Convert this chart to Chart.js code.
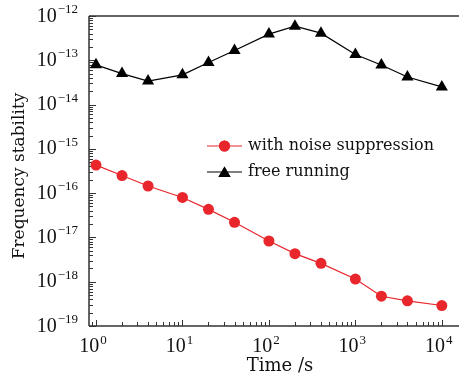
<!DOCTYPE html>
<html>
<head>
<meta charset="utf-8">
<script src="https://cdn.jsdelivr.net/npm/chart.js@4"></script>
<style>
  html, body { margin: 0; padding: 0; background: #fff; }
  #wrap { width: 466px; height: 378px; }
</style>
</head>
<body>
<div id="wrap"><canvas id="stab"></canvas></div>
<script>
// averaging time (s)
const tau = [1, 2, 4, 10, 20, 40, 100, 200, 400, 1000, 2000, 4000, 10000];
// Allan deviation, locked with noise suppression
const suppressed = [4.3e-16, 2.5e-16, 1.45e-16, 8.0e-17, 4.3e-17, 2.2e-17, 8.3e-18, 4.3e-18, 2.6e-18, 1.15e-18, 4.7e-19, 3.7e-19, 2.9e-19];
// Allan deviation, free running
const freeRunning = [7.9e-14, 5.0e-14, 3.4e-14, 4.7e-14, 8.9e-14, 1.66e-13, 3.9e-13, 5.9e-13, 4.1e-13, 1.35e-13, 7.8e-14, 4.2e-14, 2.5e-14];
const seriesNames = ['with noise suppression', 'free running'];
// decade labels
const xExps = [0, 1, 2, 3, 4];
const yExps = [-19, -18, -17, -16, -15, -14, -13, -12];

const RED = 'rgb(232,38,44)';
const AXIS = '#333';
const SERIF = '"DejaVu Serif", serif';
const NUM = '"Liberation Serif", serif';

function isInt(v) { return Math.abs(v - Math.round(v)) < 1e-6; }

// "10" with a raised exponent, y is the baseline
function drawPow(ctx, exp, x, y, align) {
  const base = '10';
  const sup = exp < 0 ? '\u2212' + (-exp) : String(exp);
  ctx.font = '20px ' + NUM;
  const bw = ctx.measureText(base).width;
  ctx.font = '13px ' + NUM;
  const ew = ctx.measureText(sup).width;
  const x0 = align === 'right' ? x - bw - ew - 1 : x - (bw + ew + 1) / 2;
  ctx.textAlign = 'left';
  ctx.textBaseline = 'alphabetic';
  ctx.font = '20px ' + NUM;
  ctx.fillText(base, x0, y);
  ctx.font = '13px ' + NUM;
  ctx.fillText(sup, x0 + bw + 1, y - 8.5);
}

const frame = {
  id: 'frame',
  beforeDatasetsDraw(chart) {
    const {ctx, chartArea: a, scales: {x, y}} = chart;
    ctx.save();
    ctx.strokeStyle = AXIS;
    ctx.lineWidth = 1.5;
    ctx.beginPath();
    ctx.moveTo(a.left, a.top); ctx.lineTo(a.right, a.top);
    ctx.moveTo(a.left, a.top); ctx.lineTo(a.left, a.bottom);
    ctx.moveTo(a.left, a.bottom); ctx.lineTo(a.right, a.bottom);
    ctx.stroke();

    // inward ticks, longer on the decades
    ctx.lineWidth = 1;
    ctx.beginPath();
    x.ticks.forEach(t => {
      const m = t.value / Math.pow(10, Math.floor(Math.log10(t.value) + 1e-9));
      if (!isInt(m)) return;
      const len = isInt(Math.log10(t.value)) ? 6 : 4;
      const px = Math.round(x.getPixelForValue(t.value)) + 0.5;
      ctx.moveTo(px, a.bottom); ctx.lineTo(px, a.bottom - len);
    });
    y.ticks.forEach(t => {
      const m = t.value / Math.pow(10, Math.floor(Math.log10(t.value) + 1e-9));
      if (!isInt(m)) return;
      const len = isInt(Math.log10(t.value)) ? 7 : 4;
      const py = Math.round(y.getPixelForValue(t.value)) + 0.5;
      ctx.moveTo(a.left, py); ctx.lineTo(a.left + len, py);
    });
    ctx.stroke();

    ctx.fillStyle = '#111';
    xExps.forEach(e => drawPow(ctx, e, x.getPixelForValue(Math.pow(10, e)) - 3, a.bottom + 26, 'center'));
    yExps.forEach(e => drawPow(ctx, e, a.left - 11, y.getPixelForValue(Math.pow(10, e)) + 5.5, 'right'));

    // axis titles
    ctx.font = '18px ' + SERIF;
    ctx.textAlign = 'center';
    ctx.textBaseline = 'middle';
    ctx.fillText('Time /s', 280, 366);
    ctx.font = '17px ' + SERIF;
    ctx.translate(20, 176);
    ctx.rotate(-Math.PI / 2);
    ctx.fillText('Frequency stability', 0, 0);
    ctx.restore();
  },
  afterDraw(chart) {
    // legend inside the plot
    const {ctx} = chart;
    ctx.save();
    ctx.font = '16px ' + SERIF;
    ctx.textAlign = 'left';
    ctx.textBaseline = 'middle';
    chart.data.datasets.forEach((ds, i) => {
      const yy = 146 + i * 26;
      ctx.strokeStyle = ds.borderColor;
      ctx.lineWidth = ds.borderWidth;
      ctx.beginPath();
      ctx.moveTo(207, yy); ctx.lineTo(242, yy);
      ctx.stroke();
      ctx.fillStyle = ds.pointBackgroundColor;
      Chart.helpers.drawPoint(ctx, {pointStyle: ds.pointStyle, radius: ds.pointRadius, borderWidth: 0}, 224.5, yy + (ds.pointStyle === 'triangle' ? 1.5 : 0));
      ctx.fill();
      ctx.fillStyle = '#111';
      ctx.fillText(seriesNames[i], 248, yy);
    });
    ctx.restore();
  }
};

new Chart(document.getElementById('stab'), {
  type: 'line',
  data: {
    labels: tau,
    datasets: [
      {
        label: seriesNames[0],
        data: tau.map((t, i) => ({x: t, y: suppressed[i]})),
        borderColor: RED,
        backgroundColor: RED,
        pointBackgroundColor: RED,
        pointBorderWidth: 0,
        pointStyle: 'circle',
        pointRadius: 5.5,
        borderWidth: 1.2
      },
      {
        label: seriesNames[1],
        data: tau.map((t, i) => ({x: t, y: freeRunning[i]})),
        borderColor: '#000',
        backgroundColor: '#000',
        pointBackgroundColor: '#000',
        pointBorderWidth: 0,
        pointStyle: 'triangle',
        pointRadius: 7,
        borderWidth: 1.2
      }
    ]
  },
  options: {
    responsive: true,
    maintainAspectRatio: false,
    animation: false,
    layout: { padding: { left: 89, top: 16, right: 0, bottom: 52 } },
    plugins: { legend: { display: false }, tooltip: { enabled: false } },
    elements: { line: { tension: 0 } },
    clip: false,
    scales: {
      x: {
        type: 'logarithmic',
        min: 0.83,
        max: 15800,
        grid: { display: false },
        border: { display: false },
        ticks: { display: false, autoSkip: false },
        afterFit: s => { s.height = 0; }
      },
      y: {
        type: 'logarithmic',
        min: 1e-19,
        max: 1e-12,
        grid: { display: false },
        border: { display: false },
        ticks: { display: false, autoSkip: false },
        afterFit: s => { s.width = 0; }
      }
    }
  },
  plugins: [frame]
});
</script>
</body>
</html>
